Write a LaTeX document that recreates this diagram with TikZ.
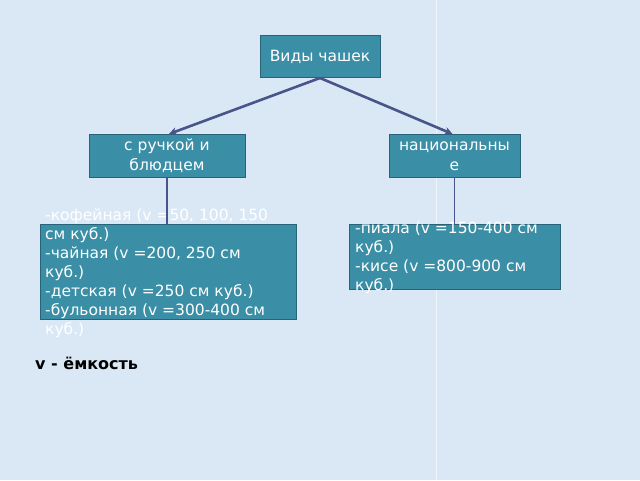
\documentclass[tikz,border=0pt]{standalone}
\usepackage{fontspec}
\setmainfont{DejaVu Sans}
\usepackage{tikz}
\usetikzlibrary{arrows.meta}
\definecolor{bgblue}{RGB}{218,232,245}
\definecolor{boxteal}{RGB}{58,142,165}
\definecolor{boxedge}{RGB}{40,100,120}
\definecolor{linkblue}{RGB}{72,84,138}
\tikzstyle{box}       = [rectangle, draw=boxedge, fill=boxteal, line width=1pt, text=white, align=center, font=\fontsize{15.5}{20}\selectfont]
\tikzstyle{listtext}  = [anchor=west, text=white, align=left, font=\fontsize{15.5}{19}\selectfont]
\tikzstyle{arrow}     = [line width=2.6pt, draw=linkblue, -{Stealth[length=8pt,width=8pt]}]
\tikzstyle{link}      = [line width=1.4pt, draw=linkblue]

\begin{document}
\begin{tikzpicture}[x=1pt,y=1pt]
		\fill[bgblue] (0,0) rectangle (640,480);
		\draw[white, opacity=0.6, line width=1pt] (436,0) -- (436,480);

		\node[box, minimum width=120pt, minimum height=42pt] (types) at (320,424) {Виды чашек};
		\node[box, minimum width=156pt, minimum height=43pt] (handle) at (167,324.5) {с ручкой и\\блюдцем};
		\node[box, minimum width=131pt, minimum height=43pt] (national) at (454.5,324.5) {национальны\\е};

		\node[box, minimum width=256pt, minimum height=95pt] (handlebox) at (168,208.5) {};
		\node[box, minimum width=211pt, minimum height=65pt] (nationalbox) at (454.5,223.5) {};

		\node[listtext, inner xsep=5pt] (handletext) at (40,207) {-кофейная (v =50, 100, 150\\см куб.)\\-чайная (v =200, 250 см\\куб.)\\-детская (v =250 см куб.)\\-бульонная (v =300-400 см\\куб.)};
		\node[listtext, inner xsep=6pt] (nationaltext) at (349,223) {-пиала (v =150-400 см\\куб.)\\-кисе (v =800-900 см\\куб.)};

		\node[anchor=west, inner sep=0pt, font=\fontsize{16}{18}\selectfont\bfseries] (note) at (35,117) {v - ёмкость};

		\draw[arrow] (types.south) -- ([xshift=2pt]handle.north);
		\draw[arrow] (types.south) -- ([xshift=-2pt]national.north);
		\draw[link] (handle.south) -- (handlebox.north -| handle.south);
		\draw[link] (national.south) -- (nationalbox.north -| national.south);
	\end{tikzpicture}
\end{document}
